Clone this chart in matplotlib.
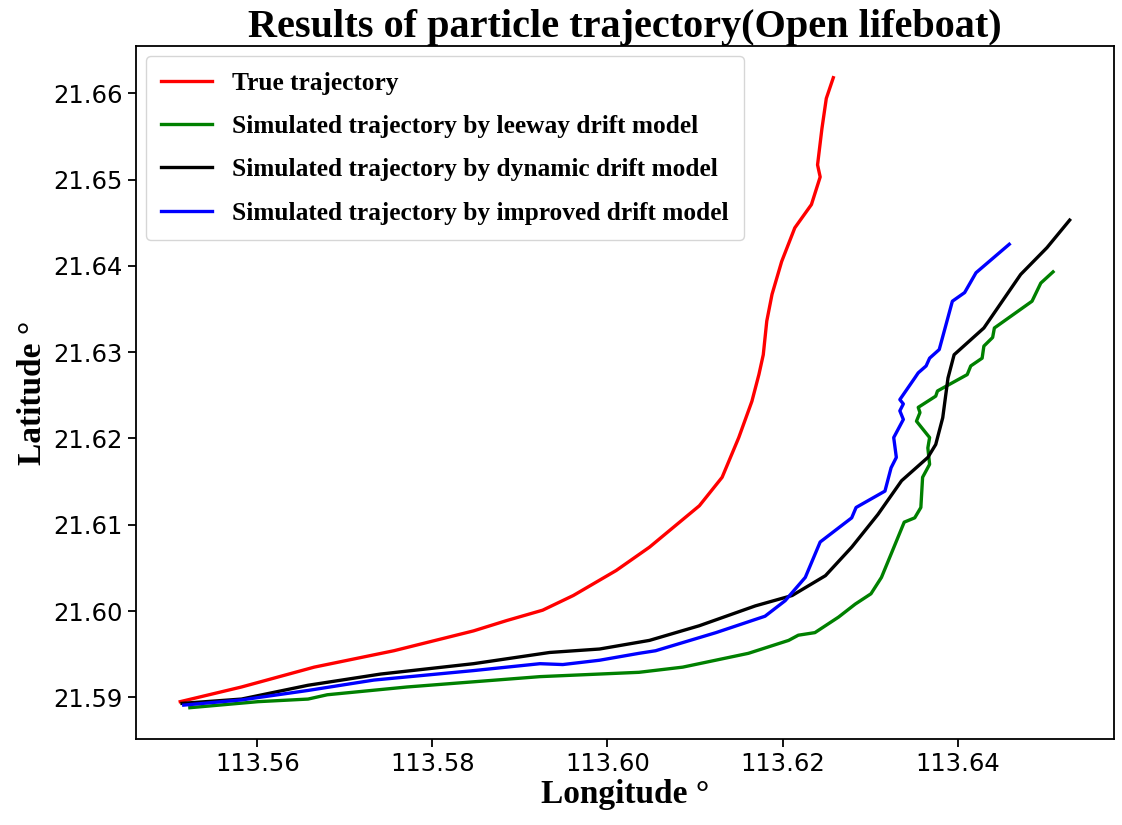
import matplotlib
matplotlib.use('Agg')
import matplotlib.pyplot as plt

# True trajectory (red)
true_lon = [113.5512, 113.5582, 113.5665, 113.5756, 113.5847, 113.5885, 113.5926, 113.5961,
            113.6010, 113.6048, 113.6105, 113.6131, 113.6150, 113.6165, 113.6173, 113.6178,
            113.6182, 113.6188, 113.6199, 113.6214, 113.6233, 113.6243, 113.6240, 113.6245,
            113.6250, 113.6258]
true_lat = [21.5895, 21.5912, 21.5935, 21.5954, 21.5977, 21.5989, 21.6001, 21.6018,
            21.6047, 21.6074, 21.6122, 21.6155, 21.6201, 21.6243, 21.6274, 21.6297,
            21.6336, 21.6367, 21.6405, 21.6444, 21.6471, 21.6503, 21.6517, 21.6559,
            21.6594, 21.6618]

# Leeway drift model (green)
leeway_lon = [113.5523, 113.5601, 113.5658, 113.5680, 113.5771, 113.5847, 113.5923, 113.5991,
              113.6036, 113.6086, 113.6161, 113.6207, 113.6218, 113.6237, 113.6264, 113.6283,
              113.6301, 113.6313, 113.6324, 113.6339, 113.6351, 113.6358, 113.6360, 113.6368,
              113.6366, 113.6368, 113.6353, 113.6357, 113.6355, 113.6375, 113.6377, 113.6411,
              113.6415, 113.6428, 113.6430, 113.6440, 113.6442, 113.6485, 113.6495, 113.6509]
leeway_lat = [21.5888, 21.5895, 21.5898, 21.5903, 21.5912, 21.5918, 21.5924, 21.5927,
              21.5929, 21.5935, 21.5951, 21.5966, 21.5972, 21.5975, 21.5993, 21.6008,
              21.6020, 21.6039, 21.6066, 21.6103, 21.6108, 21.6120, 21.6155, 21.6170,
              21.6189, 21.6201, 21.6220, 21.6230, 21.6236, 21.6249, 21.6255, 21.6274,
              21.6284, 21.6293, 21.6307, 21.6317, 21.6328, 21.6359, 21.6380, 21.6393]

# Dynamic drift model (black)
dynamic_lon = [113.5514, 113.5582, 113.5658, 113.5741, 113.5847, 113.5934, 113.5991, 113.6048,
               113.6105, 113.6169, 113.6211, 113.6249, 113.6279, 113.6309, 113.6336, 113.6366,
               113.6375, 113.6383, 113.6389, 113.6396, 113.6430, 113.6472, 113.6502, 113.6528]
dynamic_lat = [21.5893, 21.5898, 21.5914, 21.5927, 21.5939, 21.5952, 21.5956, 21.5966,
               21.5983, 21.6006, 21.6018, 21.6041, 21.6074, 21.6112, 21.6151, 21.6178,
               21.6193, 21.6224, 21.6270, 21.6297, 21.6328, 21.6390, 21.6421, 21.6453]

# Improved drift model (blue)
improved_lon = [113.5516, 113.5582, 113.5658, 113.5733, 113.5847, 113.5923, 113.5949, 113.5991,
                113.6036, 113.6055, 113.6124, 113.6180, 113.6203, 113.6226, 113.6243, 113.6279,
                113.6284, 113.6317, 113.6324, 113.6330, 113.6327, 113.6338, 113.6334, 113.6338,
                113.6334, 113.6351, 113.6355, 113.6364, 113.6368, 113.6379, 113.6394, 113.6408,
                113.6421, 113.6459]
improved_lat = [21.5891, 21.5897, 21.5908, 21.5920, 21.5931, 21.5939, 21.5938, 21.5943,
                21.5951, 21.5954, 21.5975, 21.5994, 21.6012, 21.6039, 21.6080, 21.6108,
                21.6120, 21.6139, 21.6166, 21.6178, 21.6201, 21.6222, 21.6232, 21.6240,
                21.6245, 21.6270, 21.6276, 21.6284, 21.6293, 21.6303, 21.6359, 21.6369,
                21.6392, 21.6425]

serif = 'Liberation Serif'

fig, ax = plt.subplots(figsize=(11.22, 8.25), dpi=100)
fig.subplots_adjust(left=0.121, right=0.993, bottom=0.104, top=0.944)

ax.plot(true_lon, true_lat, color='red', linewidth=2.4, label='True trajectory')
ax.plot(leeway_lon, leeway_lat, color='green', linewidth=2.4,
        label='Simulated trajectory by leeway drift model')
ax.plot(dynamic_lon, dynamic_lat, color='black', linewidth=2.4,
        label='Simulated trajectory by dynamic drift model')
ax.plot(improved_lon, improved_lat, color='blue', linewidth=2.4,
        label='Simulated trajectory by improved drift model')

ax.set_xticks([113.56, 113.58, 113.60, 113.62, 113.64])
ax.set_xticklabels(['113.56', '113.58', '113.60', '113.62', '113.64'])
ax.set_yticks([21.59, 21.60, 21.61, 21.62, 21.63, 21.64, 21.65, 21.66])
ax.set_yticklabels(['21.59', '21.60', '21.61', '21.62', '21.63', '21.64', '21.65', '21.66'])
ax.tick_params(labelsize=17.5, length=6, width=1.3)
for s in ax.spines.values():
    s.set_linewidth(1.3)

ax.set_title('Results of particle trajectory(Open lifeboat)', fontsize=29,
             fontweight='bold', family=serif, pad=5)
ax.set_xlabel('Longitude °', fontsize=24, fontweight='bold', family=serif, labelpad=2)
ax.set_ylabel('Latitude °', fontsize=24, fontweight='bold', family=serif)

ax.legend(loc='upper left', prop={'family': serif, 'weight': 'bold', 'size': 18.3},
          handlelength=2.0, labelspacing=0.8, borderpad=0.6, borderaxespad=0.4)

fig.savefig('out.png')
